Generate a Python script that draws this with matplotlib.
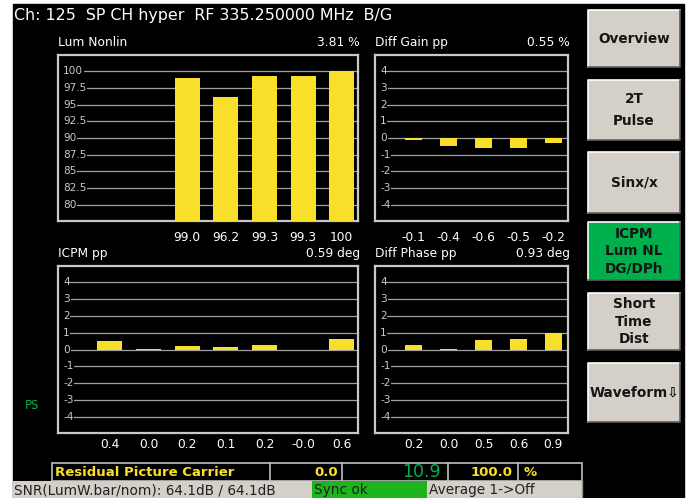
import matplotlib
matplotlib.use("Agg")
import matplotlib.pyplot as plt
from matplotlib.patches import Rectangle
from matplotlib.transforms import blended_transform_factory as blend

# ---- data ----
header = "Ch: 125  SP CH hyper  RF 335.250000 MHz  B/G"

lum_vals = [99.0, 96.2, 99.3, 99.3, 100.0]
lum_labels = ["99.0", "96.2", "99.3", "99.3", "100"]
lum_ticks = [100, 97.5, 95, 92.5, 90, 87.5, 85, 82.5, 80]

dg_vals = [-0.1, -0.48, -0.6, -0.6, -0.3]
dg_labels = ["-0.1", "-0.4", "-0.6", "-0.5", "-0.2"]

icpm_vals = [0.48, 0.03, 0.22, 0.16, 0.28, -0.02, 0.6]
icpm_labels = ["0.4", "0.0", "0.2", "0.1", "0.2", "-0.0", "0.6"]

dp_vals = [0.28, 0.03, 0.55, 0.6, 0.99]
dp_labels = ["0.2", "0.0", "0.5", "0.6", "0.9"]

pm_ticks = [4, 3, 2, 1, 0, -1, -2, -3, -4]

buttons = [("Overview", False), ("2T\nPulse", False), ("Sinx/x", False),
           ("ICPM\nLum NL\nDG/DPh", True), ("Short\nTime\nDist", False),
           ("Waveform\u21e9", False)]

YEL = "#f8df2a"
GRN = "#00b04c"
GRAY = "#d4d0c8"
W, H = 691, 498

fig = plt.figure(figsize=(W / 100, H / 100), dpi=100, facecolor="white")
bg = fig.add_axes([0, 0, 1, 1])
bg.set_xlim(0, W)
bg.set_ylim(H, 0)
bg.axis("off")
bg.add_patch(Rectangle((13, 4), 671, 494, color="black", zorder=0))

bg.text(14, 15, header, color="white", fontsize=11.4, va="center")


def panel(x0, y0, x1, y1, vals, labels, ticks, ylim, slots, first, lab_x,
          label_y, width, title, value, bottom=0):
    ax = fig.add_axes([x0 / W, 1 - y1 / H, (x1 - x0) / W, (y1 - y0) / H])
    ax.set_facecolor("black")
    ax.set_xlim(-first, slots - 1 + 0.42)
    ax.set_ylim(*ylim)
    ax.set_xticks([])
    ax.set_yticks([])
    for s in ax.spines.values():
        s.set_color("#c8c8c8")
        s.set_linewidth(1.6)
    tr = blend(bg.transData, ax.transData)
    for t in ticks:
        ax.plot([lab_x, x1], [t, t], color="#a0a0a0", lw=0.9,
                transform=tr, zorder=1, clip_on=False)
        ax.text(lab_x, t, f"{t:g}", color="#c8c8c8", fontsize=7.6,
                va="center", ha="left", transform=tr, zorder=2,
                bbox=dict(facecolor="black", edgecolor="none", pad=0.6))
    xs = [slots - len(vals) + i for i in range(len(vals))]
    hs = [v - bottom for v in vals]
    ax.bar(xs, hs, bottom=bottom, width=width, color=YEL, zorder=3)
    trl = blend(ax.transData, bg.transData)
    for x, lab in zip(xs, labels):
        ax.text(x, label_y, lab, color="white", fontsize=8.8, ha="center",
                va="center", transform=trl, clip_on=False)
    ty = y0 - 13
    bg.text(x0, ty, title, color="white", fontsize=8.8, va="center")
    bg.text(x1 + 2, ty, value, color="white", fontsize=8.8, va="center",
            ha="right")
    return ax


pm = (-4.97, 4.97)
panel(58, 55, 358, 221, lum_vals, lum_labels, lum_ticks, (77.6, 102.4), 7,
      1.34, 63, 237, 0.645, "Lum Nonlin", "3.81 %", bottom=77.6)
panel(375, 55, 568, 221, dg_vals, dg_labels, pm_ticks, pm, 5, 1.11, 380,
      237, 0.49, "Diff Gain pp", "0.55 %")
panel(58, 266, 358, 433, icpm_vals, icpm_labels, pm_ticks, pm, 7, 1.34, 63,
      444, 0.645, "ICPM pp", "0.59 deg")
panel(375, 266, 568, 433, dp_vals, dp_labels, pm_ticks, pm, 5, 1.11, 380,
      444, 0.49, "Diff Phase pp", "0.93 deg")

bg.text(25, 405, "PS", color=GRN, fontsize=8.5, va="center")

# ---- soft keys ----
btn_y = [(10, 67), (80, 140), (152, 213), (222, 280), (293, 350), (363, 422)]
for (txt, active), (ya, yb) in zip(buttons, btn_y):
    face = GRN if active else GRAY
    bg.add_patch(Rectangle((588, ya), 92, yb - ya, facecolor=face,
                           edgecolor="none", zorder=2))
    bg.plot([588, 588, 680], [yb, ya, ya], color="white", lw=1.2, zorder=3)
    bg.plot([588, 680, 680], [yb, yb, ya], color="#606060", lw=1.2, zorder=3)
    nl = txt.count("\n")
    bg.text(634, (ya + yb) / 2, txt, color="#151515", fontsize=9.8,
            fontweight="bold", ha="center", va="center",
            linespacing=1.72 if nl == 1 else 1.3, zorder=4)

# ---- result table ----
bg.add_patch(Rectangle((52, 463), 530, 18, facecolor="black",
                       edgecolor="#c0c0c0", lw=1.2, zorder=2))
for xv in [270, 342, 448, 518]:
    bg.plot([xv, xv], [463, 481], color="#c0c0c0", lw=1.2, zorder=3)
bg.text(55, 472.5, "Residual Picture Carrier", color=YEL, fontsize=9.5,
        fontweight="bold", va="center", zorder=4)
bg.text(338, 472.5, "0.0", color=YEL, fontsize=9.5, fontweight="bold",
        va="center", ha="right", zorder=4)
bg.text(441, 471.5, "10.9", color=GRN, fontsize=12.5, va="center",
        ha="right", zorder=4)
bg.text(513, 472.5, "100.0", color=YEL, fontsize=9.5, fontweight="bold",
        va="center", ha="right", zorder=4)
bg.text(524, 472.5, "%", color=YEL, fontsize=9.5, fontweight="bold",
        va="center", zorder=4)

# ---- status line ----
bg.add_patch(Rectangle((13, 481), 569, 17, facecolor=GRAY, edgecolor="none",
                       zorder=2))
bg.add_patch(Rectangle((312, 481), 115, 17, facecolor="#1db41d",
                       edgecolor="none", zorder=3))
bg.plot([582, 582], [481, 498], color="#909090", lw=1, zorder=3)
bg.text(14, 490, "SNR(LumW.bar/nom): 64.1dB / 64.1dB", color="#202020",
        fontsize=9.8, va="center", zorder=4)
bg.text(314, 490, "Sync ok", color="#202020", fontsize=9.8, va="center",
        zorder=4)
bg.text(429, 490, "Average 1->Off", color="#202020", fontsize=9.8,
        va="center", zorder=4)

fig.savefig("out.png", dpi=100, facecolor="white")
